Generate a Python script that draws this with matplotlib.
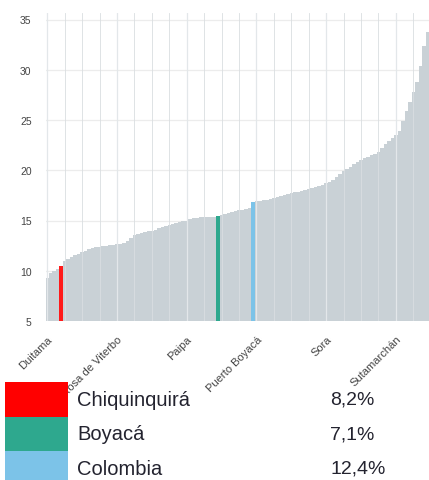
import numpy as np
import matplotlib
matplotlib.use("Agg")
import matplotlib.pyplot as plt
from matplotlib.ticker import MultipleLocator, FixedLocator

# ---- data ----
values = [9.3, 9.8, 10.0, 10.2, 10.5, 11.0, 11.2, 11.4, 11.6, 11.7,
          11.9, 12.0, 12.2, 12.3, 12.4, 12.4, 12.5, 12.5, 12.6, 12.6,
          12.7, 12.7, 12.8, 13.0, 13.3, 13.6, 13.7, 13.8, 13.9, 14.0,
          14.0, 14.1, 14.3, 14.4, 14.5, 14.6, 14.7, 14.8, 14.9, 15.0,
          15.0, 15.1, 15.2, 15.2, 15.3, 15.3, 15.3, 15.3, 15.3, 15.4,
          15.5, 15.6, 15.7, 15.8, 15.9, 16.0, 16.0, 16.1, 16.2, 16.8,
          16.9, 16.9, 17.0, 17.0, 17.1, 17.2, 17.3, 17.4, 17.5, 17.6,
          17.7, 17.8, 17.8, 17.9, 18.0, 18.1, 18.2, 18.3, 18.4, 18.5,
          18.7, 18.8, 19.0, 19.3, 19.6, 19.9, 20.1, 20.3, 20.6, 20.8,
          21.0, 21.2, 21.3, 21.5, 21.6, 21.8, 22.2, 22.6, 22.9, 23.2,
          23.5, 23.9, 24.9, 25.9, 26.8, 27.8, 28.8, 30.4, 32.4, 33.8]
highlight_index = {4: "#ff1a1a", 49: "#2ea88e", 59: "#7cc3e8"}
tick_positions = [0, 20, 40, 60, 80, 100]
tick_labels = ["Duitama", "Santa Rosa de Viterbo", "Paipa", "Puerto Boyacá", "Sora", "Sutamarchán"]
y_ticks = [5, 10, 15, 20, 25, 30, 35]

legend_names = ["Chiquinquirá", "Boyacá", "Colombia"]
legend_values = ["8,2%", "7,1%", "12,4%"]
legend_colors = ["#ff0000", "#2ea88e", "#7cc3e8"]

# ---- figure ----
W, H = 429, 481
fig = plt.figure(figsize=(W / 100, H / 100), dpi=100)
plt.rcParams['font.family'] = ['Liberation Sans', 'DejaVu Sans']

ax_left, ax_right = 45.5, 429.0
ax_bottom_px, px_per_unit = 322.0, 10.05
ymin, ymax = 5, 35.6
ax_top_px = ax_bottom_px - (ymax - ymin) * px_per_unit
ax = fig.add_axes([ax_left / W, (H - ax_bottom_px) / H,
                   (ax_right - ax_left) / W, (ax_bottom_px - ax_top_px) / H])

x = np.arange(len(values))
colors = ["#c9d1d6"] * len(values)
for i, c in highlight_index.items():
    colors[i] = c
ax.bar(x, values, width=1.0, color=colors, linewidth=0, zorder=1)

ax.set_xlim(-0.5, len(values) - 0.5)
ax.set_ylim(ymin, ymax)
ax.set_yticks(y_ticks)
ax.set_yticklabels([str(v) for v in y_ticks])
ax.xaxis.set_major_locator(FixedLocator(tick_positions))
ax.set_xticklabels(tick_labels, rotation=45, ha='right', va='top',
                   rotation_mode='anchor')
ax.xaxis.set_minor_locator(MultipleLocator(5))

for s in ax.spines.values():
    s.set_visible(False)
ax.tick_params(axis='both', which='both', length=0, labelcolor='#444444')
ax.tick_params(axis='x', labelsize=8, pad=9)
ax.tick_params(axis='y', labelsize=7.5, pad=10)

ax.set_axisbelow(True)
ax.grid(axis='y', color='#ececec', linewidth=0.9)
ax.grid(axis='x', which='major', color='#e3e7ea', linewidth=0.9)
ax.grid(axis='x', which='minor', color='#d9dee1', linewidth=0.6)
ax.xaxis.set_zorder(2.5)

# ---- legend block ----
row_px = 34.5
leg_top = 383.0
leg_left, sw_w = 5.0, 63.0
leg_h = row_px * 3
lax = fig.add_axes([leg_left / W, (H - leg_top - leg_h) / H,
                    (W - leg_left) / W, leg_h / H])
lax.set_xlim(0, (W - leg_left) / sw_w)
lax.set_ylim(2.5, -0.5)
lax.axis('off')
rows = np.arange(len(legend_names))
lax.barh(rows, [1.0] * len(rows), height=1.0, left=0, color=legend_colors, linewidth=0)
for r, name, val in zip(rows, legend_names, legend_values):
    lax.text((77 - leg_left) / sw_w, r, name, va='center', ha='left',
             fontsize=14.5, color='#23232f')
    lax.text((330 - leg_left) / sw_w, r, val, va='center', ha='left',
             fontsize=14, color='#23232f')

fig.savefig("out.png", dpi=100)
